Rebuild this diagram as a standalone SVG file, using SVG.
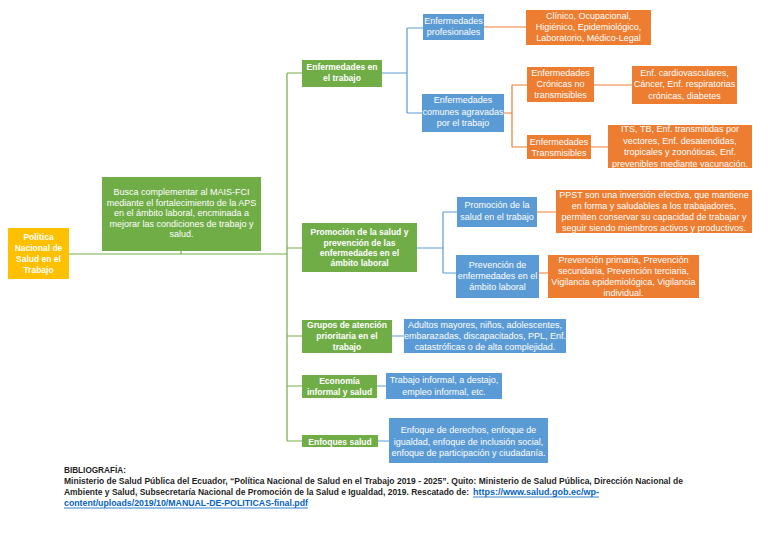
<svg xmlns="http://www.w3.org/2000/svg" width="768" height="544" viewBox="0 0 768 544">
<style>
  .yel{fill:#FFC000}
  .grn{fill:#70AD47}
  .blu{fill:#5B9BD5}
  .org{fill:#ED7D31}
  text{font-family:"Liberation Sans",Arial,sans-serif;fill:#fff;text-anchor:middle}
  .b{font-size:8.5px;font-weight:bold}
  .r{font-size:9px}
  .lg{stroke:#70AD47;stroke-width:1.2;fill:none}
  .lb{stroke:#5B9BD5;stroke-width:1.2;fill:none}
  .lo{stroke:#ED7D31;stroke-width:1.2;fill:none}
  .bib{font-size:8.2px;font-weight:bold;fill:#1f1f1f;text-anchor:start}
  .lnk{fill:#0563C1}
</style>
<rect width="768" height="544" fill="#fff"/>
<g id="connectors">
  <path class="lg" d="M69 254H287M181 251V254M287 73V441M287 73H302M287 248H302M287 336H302M287 386H302M287 441H302"/>
  <path class="lb" d="M382 73H407M407 28V113M407 28H423M407 113H422"/>
  <path class="lo" d="M484 27H526M504 113H512M512 85V147M512 85H527M512 147H527M594 85H632M591 147H608"/>
  <path class="lb" d="M417 248H443M443 212V273M443 212H457M443 273H456"/>
  <path class="lo" d="M537 212H556M539 273H548"/>
  <path class="lb" d="M392 336H404M377 386H386M378 441H389"/>
</g>
<g id="root">
  <rect class="yel" x="8" y="228" width="61" height="51"/>
  <text class="b" x="38.5" y="240">Política</text>
  <text class="b" x="38.5" y="251">Nacional de</text>
  <text class="b" x="38.5" y="262">Salud en el</text>
  <text class="b" x="38.5" y="273">Trabajo</text>
</g>
<g id="busca">
  <rect class="grn" x="102" y="177" width="159" height="74"/>
  <text class="r" x="181.5" y="195">Busca complementar al MAIS-FCI</text>
  <text class="r" x="181.5" y="206">mediante el fortalecimiento de la APS</text>
  <text class="r" x="181.5" y="216">en el ámbito laboral, encminada a</text>
  <text class="r" x="181.5" y="227">mejorar las condiciones de trabajo y</text>
  <text class="r" x="181.5" y="237">salud.</text>
</g>
<g id="enf-trabajo">
  <rect class="grn" x="302" y="60" width="80" height="27"/>
  <text class="b" x="342" y="70">Enfermedades en</text>
  <text class="b" x="342" y="81">el trabajo</text>
</g>
<g id="enf-profesionales">
  <rect class="blu" x="423" y="14" width="61" height="26"/>
  <text class="r" x="453.5" y="24">Enfermedades</text>
  <text class="r" x="453.5" y="35">profesionales</text>
</g>
<g id="clinico">
  <rect class="org" x="526" y="10" width="125" height="35"/>
  <text class="r" x="588.5" y="19">Clínico, Ocupacional,</text>
  <text class="r" x="588.5" y="30">Higiénico, Epidemiológico,</text>
  <text class="r" x="588.5" y="41">Laboratorio, Médico-Legal</text>
</g>
<g id="enf-comunes">
  <rect class="blu" x="422" y="94" width="82" height="38"/>
  <text class="r" x="463" y="103">Enfermedades</text>
  <text class="r" x="463" y="115">comunes agravadas</text>
  <text class="r" x="463" y="126">por el trabajo</text>
</g>
<g id="cronicas">
  <rect class="org" x="527" y="67" width="67" height="35"/>
  <text class="r" x="560.5" y="76">Enfermedades</text>
  <text class="r" x="560.5" y="87">Crónicas no</text>
  <text class="r" x="560.5" y="98">transmisibles</text>
</g>
<g id="cardio">
  <rect class="org" x="632" y="66" width="105" height="38"/>
  <text class="r" x="684.5" y="76">Enf. cardiovasculares,</text>
  <text class="r" x="684.5" y="87">Cáncer, Enf. respiratorias</text>
  <text class="r" x="684.5" y="99">crónicas, diabetes</text>
</g>
<g id="transmisibles">
  <rect class="org" x="527" y="135" width="64" height="24"/>
  <text class="r" x="559" y="145">Enfermedades</text>
  <text class="r" x="559" y="156">Transmisibles</text>
</g>
<g id="its">
  <rect class="org" x="608" y="125" width="144" height="43"/>
  <text class="r" x="680" y="132">ITS, TB, Enf. transmitidas por</text>
  <text class="r" x="680" y="144">vectores, Enf. desatendidas,</text>
  <text class="r" x="680" y="155">tropicales y zoonóticas, Enf.</text>
  <text class="r" x="680" y="167">prevenibles mediante vacunación.</text>
</g>
<g id="promocion">
  <rect class="grn" x="302" y="223" width="115" height="49"/>
  <text class="b" x="359.5" y="235">Promoción de la salud y</text>
  <text class="b" x="359.5" y="246">prevención de las</text>
  <text class="b" x="359.5" y="256">enfermedades en el</text>
  <text class="b" x="359.5" y="266">ámbito laboral</text>
</g>
<g id="promocion-salud">
  <rect class="blu" x="457" y="197" width="80" height="30"/>
  <text class="r" x="497" y="208">Promoción de la</text>
  <text class="r" x="497" y="220">salud en el trabajo</text>
</g>
<g id="ppst">
  <rect class="org" x="556" y="190" width="196" height="43"/>
  <text class="r" x="654" y="198">PPST son una inversión efectiva, que mantiene</text>
  <text class="r" x="654" y="209">en forma y saludables a los trabajadores,</text>
  <text class="r" x="654" y="220">permiten conservar su capacidad de trabajar y</text>
  <text class="r" x="654" y="231">seguir siendo miembros activos y productivos.</text>
</g>
<g id="prevencion-enf">
  <rect class="blu" x="456" y="255" width="83" height="43"/>
  <text class="r" x="497.5" y="268">Prevención de</text>
  <text class="r" x="497.5" y="279">enfermedades en el</text>
  <text class="r" x="497.5" y="290">ámbito laboral</text>
</g>
<g id="prevencion-niveles">
  <rect class="org" x="548" y="255" width="151" height="43"/>
  <text class="r" x="623.5" y="263">Prevención primaria, Prevención</text>
  <text class="r" x="623.5" y="274">secundaria, Prevención terciaria,</text>
  <text class="r" x="623.5" y="285">Vigilancia epidemiológica, Vigilancia</text>
  <text class="r" x="623.5" y="296">individual.</text>
</g>
<g id="grupos">
  <rect class="grn" x="302" y="320" width="90" height="33"/>
  <text class="b" x="347" y="328">Grupos de atención</text>
  <text class="b" x="347" y="339">prioritaria en el</text>
  <text class="b" x="347" y="350">trabajo</text>
</g>
<g id="adultos">
  <rect class="blu" x="404" y="319" width="162" height="34"/>
  <text class="r" x="485" y="328">Adultos mayores, niños, adolescentes,</text>
  <text class="r" x="485" y="339">embarazadas, discapacitados, PPL, Enf.</text>
  <text class="r" x="485" y="350">catastróficas o de alta complejidad.</text>
</g>
<g id="economia">
  <rect class="grn" x="302" y="375" width="75" height="23"/>
  <text class="b" x="339.5" y="384">Economía</text>
  <text class="b" x="339.5" y="395">informal y salud</text>
</g>
<g id="trabajo-informal">
  <rect class="blu" x="386" y="373" width="116" height="26"/>
  <text class="r" x="444" y="383">Trabajo informal, a destajo,</text>
  <text class="r" x="444" y="395">empleo informal, etc.</text>
</g>
<g id="enfoques">
  <rect class="grn" x="302" y="435" width="76" height="12"/>
  <text class="b" x="340" y="445">Enfoques salud</text>
</g>
<g id="enfoque-derechos">
  <rect class="blu" x="389" y="418" width="159" height="45"/>
  <text class="r" x="468.5" y="433">Enfoque de derechos, enfoque de</text>
  <text class="r" x="468.5" y="445">igualdad, enfoque de inclusión social,</text>
  <text class="r" x="468.5" y="456">enfoque de participación y ciudadanía.</text>
</g>
<g id="bibliografia">
  <text class="bib" x="64" y="473">BIBLIOGRAFÍA:</text>
  <text class="bib" x="64" y="484" textLength="619" lengthAdjust="spacingAndGlyphs">Ministerio de Salud Pública del Ecuador, “Política Nacional de Salud en el Trabajo 2019 - 2025”. Quito: Ministerio de Salud Pública, Dirección Nacional de</text>
  <text class="bib" x="64" y="495" textLength="405" lengthAdjust="spacingAndGlyphs">Ambiente y Salud, Subsecretaría Nacional de Promoción de la Salud e Igualdad, 2019. Rescatado de:</text>
  <text class="bib lnk" x="473" y="495" textLength="126" lengthAdjust="spacingAndGlyphs">https://www.salud.gob.ec/wp-</text>
  <text class="bib lnk" x="64" y="506" textLength="244" lengthAdjust="spacingAndGlyphs">content/uploads/2019/10/MANUAL-DE-POLITICAS-final.pdf</text>
  <path d="M473 497H599M64 508H308" stroke="#0563C1" stroke-width="0.8"/>
</g>
</svg>
